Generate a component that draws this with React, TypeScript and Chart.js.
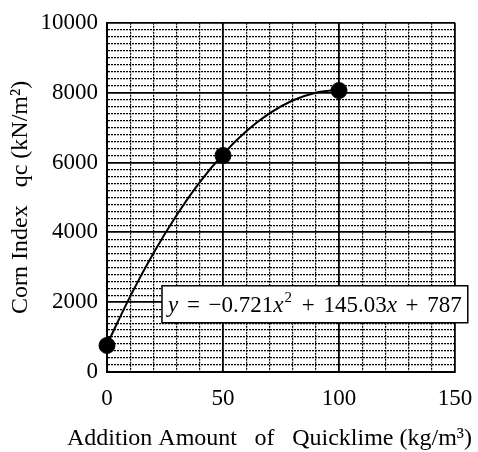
import React, { useEffect, useRef } from "react";
import { Chart, registerables } from "chart.js";

Chart.register(...registerables);

// Measured points
const measuredX = [0, 50, 100];
const measuredY = [760, 6200, 8060];

// Fitted curve
const curveX = [0, 10, 20, 30, 40, 50, 60, 70, 80, 90, 100];
const curveY = [787, 2165, 3399, 4489, 5435, 6236, 6893, 7406, 7775, 7999, 8080];

const xTickLabels = [0, 50, 100, 150];
const yTickLabels = [0, 2000, 4000, 6000, 8000, 10000];

const xTitleParts = ["Addition Amount", "of", "Quicklime (kg/m\u00B3)"];
const yTitle = "Corn Index   qc (kN/m\u00B2)";

// Equation pieces: [text, style]; "gap" = flexible space
const eqSegments: [string, string][] = [
  ["y", "i"],
  ["", "gap"],
  ["=", "n"],
  ["", "gap"],
  ["\u22120.721", "n"],
  ["x", "i"],
  ["2", "s"],
  ["", "gap"],
  ["+", "n"],
  ["", "gap"],
  ["145.03", "n"],
  ["x", "i"],
  ["", "gap"],
  ["+", "n"],
  ["", "gap"],
  ["787", "n"],
];
// Box corners in data units
const eqBox = { x0: 23.7, x1: 155.5, yTop: 2470, yBottom: 1410 };

const FONT = "'Liberation Serif', 'Times New Roman', serif";

const eqPlugin = {
  id: "eqBox",
  afterDatasetsDraw(chart: any) {
    const { ctx } = chart;
    const xs = chart.scales.x;
    const ys = chart.scales.y;
    const l = xs.getPixelForValue(eqBox.x0);
    const r = xs.getPixelForValue(eqBox.x1);
    const t = ys.getPixelForValue(eqBox.yTop);
    const b = ys.getPixelForValue(eqBox.yBottom);
    ctx.save();
    ctx.fillStyle = "#fff";
    ctx.fillRect(l, t, r - l, b - t);
    ctx.strokeStyle = "#000";
    ctx.lineWidth = 1.5;
    ctx.strokeRect(l, t, r - l, b - t);
    const size = 23;
    const fontFor = (s: string) =>
      s === "i" ? `italic ${size}px ${FONT}` : s === "s" ? `${Math.round(size * 0.65)}px ${FONT}` : `${size}px ${FONT}`;
    const pad = 6;
    let textW = 0;
    let gaps = 0;
    for (const [txt, s] of eqSegments) {
      if (s === "gap") { gaps++; continue; }
      ctx.font = fontFor(s);
      textW += ctx.measureText(txt).width + (s === "s" ? 2 : 0);
    }
    const gapW = (r - l - 2 * pad - textW) / gaps;
    let x = l + pad;
    const baseY = (t + b) / 2 + 8;
    ctx.fillStyle = "#000";
    ctx.textBaseline = "alphabetic";
    for (const [txt, s] of eqSegments) {
      if (s === "gap") { x += gapW; continue; }
      ctx.font = fontFor(s);
      const yy = s === "s" ? baseY - 10 : baseY;
      ctx.fillText(txt, x + (s === "s" ? 1 : 0), yy);
      x += ctx.measureText(txt).width + (s === "s" ? 2 : 0);
    }

    // X axis title, laid out wider than the plot
    ctx.font = `24px ${FONT}`;
    const startX = 67;
    const endX = 472;
    let w = 0;
    for (const p of xTitleParts) w += ctx.measureText(p).width;
    const g = Math.max(6, (endX - startX - w) / (xTitleParts.length - 1));
    let tx = startX;
    const ty = chart.scales.x.bottom - 7;
    for (const p of xTitleParts) {
      ctx.fillText(p, tx, ty);
      tx += ctx.measureText(p).width + g;
    }
    ctx.restore();
  },
};

export default function App() {
  const ref = useRef<HTMLCanvasElement | null>(null);
  useEffect(() => {
    if (!ref.current) return;
    const chart = new Chart(ref.current, {
      type: "scatter",
      data: {
        datasets: [
          {
            type: "line",
            data: curveX.map((x, i) => ({ x, y: curveY[i] })),
            borderColor: "#000",
            borderWidth: 2,
            pointRadius: 0,
            cubicInterpolationMode: "monotone",
            fill: false,
            order: 2,
          } as any,
          {
            data: measuredX.map((x, i) => ({ x, y: measuredY[i] })),
            backgroundColor: "#000",
            borderColor: "#000",
            pointRadius: 8,
            pointHoverRadius: 8,
            order: 1,
            clip: false,
          } as any,
        ],
      },
      options: {
        animation: false,
        responsive: true,
        maintainAspectRatio: false,
        layout: { padding: { top: 19, right: 23, left: 0, bottom: 0 } },
        plugins: { legend: { display: false }, tooltip: { enabled: false } },
        scales: {
          x: {
            type: "linear",
            min: 0,
            max: 150,
            afterFit: (s: any) => {
              s.height = 80;
            },
            ticks: {
              stepSize: 10,
              autoSkip: false,
              maxRotation: 0,
              padding: 0,
              color: "#000",
              font: { family: FONT, size: 23 },
              callback: (v: any) => (xTickLabels.includes(Number(v)) ? String(v) : ""),
            },
            grid: {
              drawTicks: true,
              tickLength: 13,
              tickColor: "rgba(0,0,0,0)",
              color: "#000",
              lineWidth: (c: any) => (c.tick && c.tick.value % 50 === 0 ? 1.8 : 1.2),
            },
            border: {
              display: true,
              color: "#000",
              width: 2,
              dash: (c: any) => (c.tick && c.tick.value % 50 !== 0 ? [2, 1] : []),
            },
            title: { display: false },
          },
          y: {
            type: "linear",
            min: 0,
            max: 10000,
            afterFit: (s: any) => {
              s.width = 107;
            },
            ticks: {
              stepSize: 200,
              autoSkip: false,
              padding: 9,
              color: "#000",
              font: { family: FONT, size: 23 },
              callback: (v: any) => (yTickLabels.includes(Number(v)) ? String(v) : ""),
            },
            grid: {
              drawTicks: false,
              color: "#000",
              lineWidth: (c: any) => (c.tick && c.tick.value % 2000 === 0 ? 1.8 : 1.2),
            },
            border: {
              display: true,
              color: "#000",
              width: 2,
              dash: (c: any) => (c.tick && c.tick.value % 2000 !== 0 ? [2, 1] : []),
            },
            title: {
              display: true,
              text: yTitle,
              color: "#000",
              font: { family: FONT, size: 24 },
              padding: { top: 6, bottom: 0 },
            },
          },
        },
      },
      plugins: [eqPlugin],
    });
    return () => chart.destroy();
  }, []);
  return (
    <div style={{ position: "absolute", left: 0, top: 0, width: 478, height: 452, background: "#fff" }}>
      <canvas ref={ref} />
    </div>
  );
}
